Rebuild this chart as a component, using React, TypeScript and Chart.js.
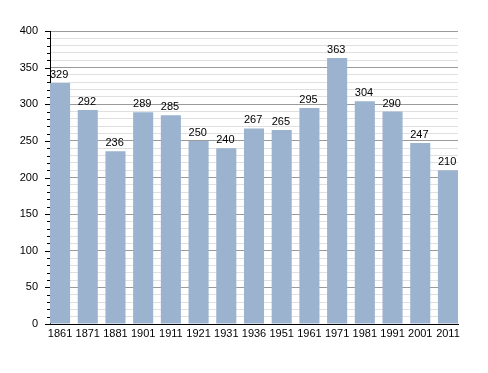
import React, { useEffect, useRef } from "react";
import { Chart, registerables } from "chart.js";

Chart.register(...registerables);

const years = ["1861", "1871", "1881", "1901", "1911", "1921", "1931", "1936", "1951", "1961", "1971", "1981", "1991", "2001", "2011"];
const population = [329, 292, 236, 289, 285, 250, 240, 267, 265, 295, 363, 304, 290, 247, 210];
const yMax = 400;
const yMajorStep = 50;
const yMinorStep = 10;
const barFraction = 0.725;

const FONT = "'Liberation Sans', Arial, sans-serif";

const valueLabels = {
  id: "valueLabels",
  afterDatasetsDraw(chart: any) {
    const ctx = chart.ctx;
    const meta = chart.getDatasetMeta(0);
    ctx.save();
    ctx.font = `11px ${FONT}`;
    ctx.fillStyle = "#000";
    ctx.textAlign = "left";
    ctx.textBaseline = "alphabetic";
    meta.data.forEach((bar: any, i: number) => {
      ctx.fillText(String(population[i]), bar.x - bar.width / 2, bar.y - 5);
    });
    ctx.restore();
  },
};

const axisTicks = {
  id: "axisTicks",
  afterDraw(chart: any) {
    const ctx = chart.ctx;
    const y = chart.scales.y;
    const left = chart.chartArea.left;
    ctx.save();
    ctx.strokeStyle = "#000";
    ctx.lineWidth = 1;
    y.ticks.forEach((t: any) => {
      const py = Math.round(y.getPixelForValue(t.value)) + 0.5;
      const len = t.value % yMajorStep === 0 ? 5 : 3;
      ctx.beginPath();
      ctx.moveTo(left - len, py);
      ctx.lineTo(left, py);
      ctx.stroke();
    });
    ctx.restore();
  },
};

export default function App() {
  const ref = useRef<HTMLCanvasElement>(null);
  useEffect(() => {
    const half = barFraction / 2;
    const chart = new Chart(ref.current!, {
      type: "bar",
      data: {
        datasets: [
          {
            data: population.map((v, i) => ({ x: i, y: v })),
            backgroundColor: "#9bb3cf",
            borderWidth: 0,
            barPercentage: barFraction,
            categoryPercentage: 1,
          },
        ],
      },
      options: {
        animation: false,
        responsive: false,
        maintainAspectRatio: false,
        parsing: false as any,
        layout: { padding: { top: 31, right: 30, left: 0, bottom: 0 } },
        plugins: { legend: { display: false }, tooltip: { enabled: false } },
        scales: {
          x: {
            type: "linear",
            min: -half,
            max: years.length - 1 + half,
            offset: false,
            grid: { display: false, drawTicks: false },
            border: { color: "#000", width: 1 },
            afterBuildTicks: (s: any) => {
              s.ticks = years.map((_, i) => ({ value: i }));
            },
            ticks: {
              color: "#000",
              font: { family: FONT, size: 11 },
              padding: 3,
              maxRotation: 0,
              autoSkip: false,
              callback: (v: any) => years[Number(v)] ?? "",
            },
            afterFit: (s: any) => { s.height = 49; },
          },
          y: {
            min: 0,
            max: yMax,
            grid: {
              drawTicks: false,
              color: (c: any) => (c.tick && c.tick.value % yMajorStep === 0 ? "#9a9a9a" : "#e0e0e0"),
            },
            border: { color: "#000", width: 1 },
            ticks: {
              stepSize: yMinorStep,
              autoSkip: false,
              color: "#000",
              font: { family: FONT, size: 11 },
              padding: 12,
              callback: (v: any) => (Number(v) % yMajorStep === 0 ? String(v) : ""),
            },
            afterFit: (s: any) => { s.width = 50; },
          },
        },
      },
      plugins: [valueLabels, axisTicks],
    });
    return () => chart.destroy();
  }, []);
  return (
    <div style={{ position: "fixed", left: 0, top: 0, width: 488, height: 373, background: "#fff" }}>
      <canvas ref={ref} width={488} height={373} style={{ width: 488, height: 373 }} />
    </div>
  );
}
